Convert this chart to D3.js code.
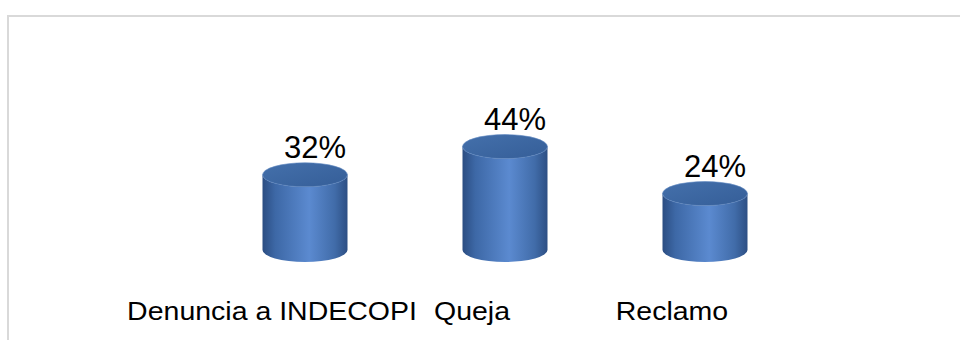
<!DOCTYPE html>
<html>
<head>
<meta charset="utf-8">
<script src="https://cdn.jsdelivr.net/npm/d3@7"></script>
<style>
  html, body { margin: 0; padding: 0; background: #fff; }
  svg { display: block; font-family: "Liberation Sans", Arial, sans-serif; }
</style>
</head>
<body>
<svg id="chart" width="960" height="340"></svg>
<script>
// 3D cylinder column chart: share of complaint types

const categories = ["Denuncia a INDECOPI", "Queja", "Reclamo"];
const values = [32, 44, 24];
const valueLabels = ["32%", "44%", "24%"];

const svg = d3.select("#chart");

// chart frame (only top and left edges fall inside the picture)
svg.append("rect")
  .attr("x", 8).attr("y", 16)
  .attr("width", 1000).attr("height", 400)
  .attr("fill", "none")
  .attr("stroke", "#d9d9d9")
  .attr("stroke-width", 2);

const x = d3.scaleBand().domain(categories).range([205, 805]);
const y = d3.scaleLinear().domain([0, 50]).range([250, 250 - 117.5]);

const barW = x.bandwidth() * 0.425;
const rx = barW / 2, ry = 12;

const defs = svg.append("defs");
const sideGrad = defs.append("linearGradient").attr("id", "side")
  .attr("x1", 0).attr("x2", 1).attr("y1", 0).attr("y2", 0);
[[0, "#2b4d82"], [0.15, "#3d68a6"], [0.55, "#5b8ad0"], [0.85, "#416ca9"], [1, "#2d4f84"]]
  .forEach(([o, c]) => sideGrad.append("stop").attr("offset", o).attr("stop-color", c));
const capGrad = defs.append("linearGradient").attr("id", "cap")
  .attr("x1", 0).attr("x2", 1).attr("y1", 0).attr("y2", 1);
[[0, "#4470ab"], [1, "#355e98"]]
  .forEach(([o, c]) => capGrad.append("stop").attr("offset", o).attr("stop-color", c));

const bars = svg.append("g").selectAll("g")
  .data(categories)
  .join("g");

bars.append("path")
  .attr("fill", "url(#side)")
  .attr("d", (d, i) => {
    const cx = x(d) + x.bandwidth() / 2;
    const yt = y(values[i]), yb = y(0);
    return `M${cx - rx},${yt} L${cx - rx},${yb} A${rx},${ry} 0 0 0 ${cx + rx},${yb}` +
      ` L${cx + rx},${yt} A${rx},${ry} 0 0 1 ${cx - rx},${yt} Z`;
  });

bars.append("ellipse")
  .attr("cx", d => x(d) + x.bandwidth() / 2)
  .attr("cy", (d, i) => y(values[i]))
  .attr("rx", rx).attr("ry", ry)
  .attr("fill", "url(#cap)")
  .attr("stroke", "#5a84bf")
  .attr("stroke-width", 0.6);

// value labels
svg.append("g").selectAll("text")
  .data(categories)
  .join("text")
  .attr("x", d => x(d) + x.bandwidth() / 2 + 10)
  .attr("y", (d, i) => y(values[i]) - ry - 5)
  .attr("text-anchor", "middle")
  .attr("font-size", 31)
  .attr("fill", "#000")
  .text((d, i) => valueLabels[i]);

// category labels (stretched horizontally like the source)
svg.append("g").selectAll("text")
  .data(categories)
  .join("text")
  .attr("transform", d => `translate(${x(d) + x.bandwidth() / 2 - 33},320) scale(1.14,1)`)
  .attr("text-anchor", "middle")
  .attr("font-size", 25)
  .attr("fill", "#000")
  .text(d => d);
</script>
</body>
</html>
